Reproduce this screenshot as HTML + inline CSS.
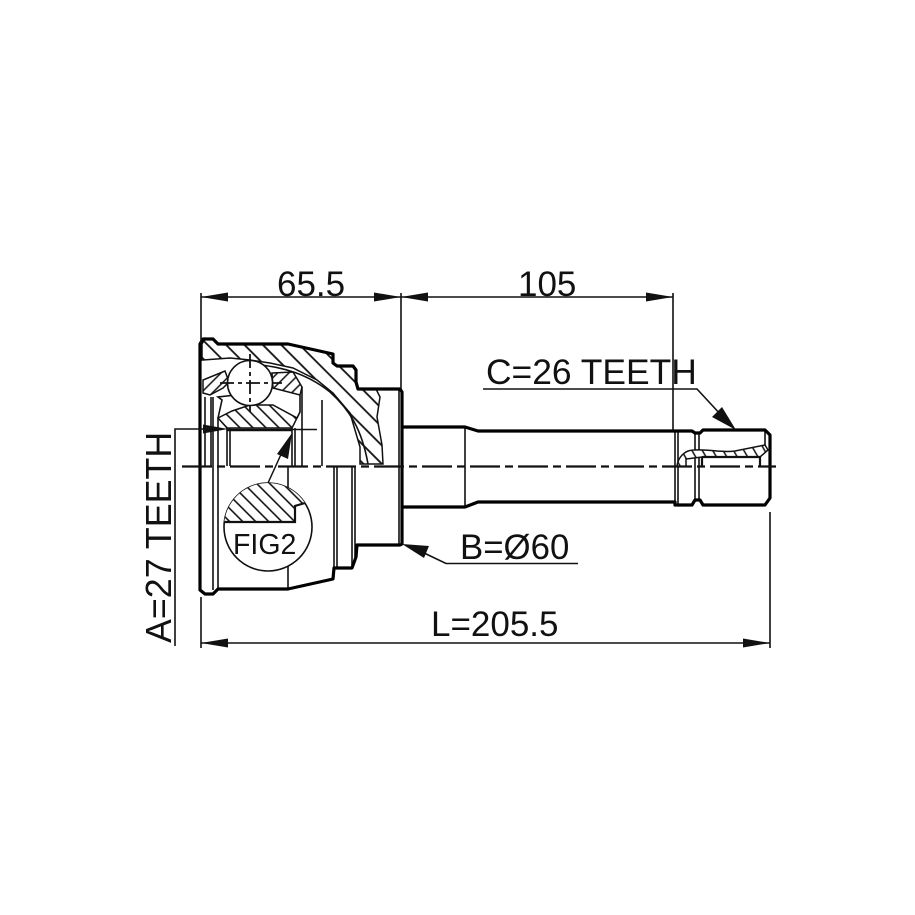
<!DOCTYPE html>
<html><head><meta charset="utf-8"><style>
html,body{margin:0;padding:0;background:#fff}
svg{display:block}
text{font-family:"Liberation Sans",sans-serif;fill:#111}
.k{fill:none;stroke:#000;stroke-width:3.2;stroke-linejoin:round;stroke-linecap:round}
.t{fill:none;stroke:#111;stroke-width:1.6}
.m{fill:none;stroke:#111;stroke-width:2.2}
</style></head><body>
<svg width="915" height="915" viewBox="0 0 915 915" xmlns="http://www.w3.org/2000/svg">
<defs>
<pattern id="h" width="13" height="13" patternUnits="userSpaceOnUse" patternTransform="rotate(45)"><rect width="13" height="13" fill="#fff"/><line x1="0" y1="6" x2="13" y2="6" stroke="#111" stroke-width="1.8"/></pattern>
<pattern id="hf" width="9.2" height="9.2" patternUnits="userSpaceOnUse" patternTransform="rotate(45)"><rect width="9.2" height="9.2" fill="#fff"/><line x1="0" y1="4" x2="9.2" y2="4" stroke="#111" stroke-width="1.6"/></pattern>
<pattern id="h2" width="8" height="8" patternUnits="userSpaceOnUse" patternTransform="rotate(-45)"><rect width="8" height="8" fill="#fff"/><line x1="0" y1="4" x2="8" y2="4" stroke="#111" stroke-width="1.5"/></pattern>
<pattern id="h4" width="9" height="9" patternUnits="userSpaceOnUse" patternTransform="rotate(60)"><rect width="9" height="9" fill="#fff"/><line x1="0" y1="4" x2="9" y2="4" stroke="#111" stroke-width="1.5"/></pattern>
<clipPath id="c"><circle cx="268" cy="527" r="44"/></clipPath>
</defs>
<rect width="915" height="915" fill="#fff"/>

<!-- hatch sections -->
<path d="M202 360L202 344L205 339L213 339L218 344L288 344L333 354L333 363L337 366L353 366L356 370L356 382L358 389L376 389L380 397L377 417L382 445L383 464L360 464L360 447L350 413L333 393L317 380L293 368L270 363L250 360L230 358L203 360Z" fill="url(#h)" stroke="#111" stroke-width="1.5"/>
<path d="M203 393L203 380L225 371L229 382L223 388L210 395Z" fill="url(#h2)" stroke="#111" stroke-width="1.5"/>
<path d="M272 373L293 372L302 387L300 395L273 388Z" fill="url(#h2)" stroke="#111" stroke-width="1.5"/>
<path d="M218 418L232 411L250 405L273 405L297 418L292 428L227 428Z" fill="url(#hf)" stroke="#111" stroke-width="1.5"/>
<path d="M218 418L222 400L218 397L236 395M300 395L300 412L297 418" class="t"/>
<path d="M250 364C285 366 310 376 330 392C350 410 362 430 368 464" class="t"/>
<circle cx="250" cy="383" r="22.5" fill="#fff" stroke="#111" stroke-width="1.6"/>

<!-- interior lines -->
<path d="M205 397V466M211 397V466M213 397V590M218 418V589M227 428V466M230 428V466M292 428V466M295 428V466M302 387V466M322 400V466M288 466V589M334 466V568M337 466V568M352 466V568M355 466V557M399 389V544M465 427V507M675 430V505M678 430V505M695 433V500M699 433V500M765 430V445" class="t"/>
<path d="M227 430H292" stroke="#111" stroke-width="2.5" fill="none"/>

<!-- outline -->
<path d="M200 590V344L203 339L213 339L218 344L288 344L333 354L333 363L337 366L353 366L356 370L356 382L358 389L400 389L402 392V544L400 545L357 545L356 557L352 568L334 568L333 579L288 589L218 589L213 594L205 594L200 590Z" class="k"/>
<path d="M402 427H465L478 431H675L692 431L695 433H700L703 430H765L770 435V498L765 505H703L700 500H695L692 505H675L675 502H478L465 507H402" class="k"/>

<!-- spline detail -->
<path d="M677 466C678 458 684 450 694 450C710 449 722 453 735 451C745 449 755 447 765 445L768 450L760 457H702L686 459V466" fill="url(#h4)" stroke="#111" stroke-width="1.5"/>
<path d="M702 457V466M760 457V466M702 457H760" class="m"/>

<!-- centre lines -->
<path d="M182 466.5H776" stroke="#111" stroke-width="2.2" fill="none" stroke-dasharray="30 5 8 5"/>
<path d="M250 354V412M220 383H282" stroke="#111" stroke-width="1.8" fill="none" stroke-dasharray="14 4 4 4"/>

<!-- FIG2 -->
<circle cx="268" cy="527" r="44" fill="#fff" stroke="#111" stroke-width="1.6"/>
<path clip-path="url(#c)" d="M220 480H320V503H305L295 506V522H220Z" fill="url(#hf)"/>
<path clip-path="url(#c)" d="M224 522H295V506L305 503" class="m"/>
<line x1="268" y1="483" x2="283" y2="450" stroke="#111" stroke-width="1.5"/>
<polygon points="292,433 288,459 277,454" fill="#111"/>
<text x="233" y="554" font-size="28.5">FIG2</text>

<!-- dimensions -->
<path d="M201 293V343M401 293V389M673 293V430M201 597V648M770 512V648" class="t"/>
<path d="M201 297H673M201 643H770" class="t"/>
<polygon points="201,297 228,292.5 228,301.5" fill="#111"/>
<polygon points="401,297 374,292.5 374,301.5" fill="#111"/>
<polygon points="401,297 428,292.5 428,301.5" fill="#111"/>
<polygon points="673,297 646,292.5 646,301.5" fill="#111"/>
<polygon points="201,643 228,638.5 228,647.5" fill="#111"/>
<polygon points="770,643 743,638.5 743,647.5" fill="#111"/>
<text x="277" y="296" font-size="35">65.5</text>
<text x="518" y="296" font-size="35">105</text>
<text x="431" y="636" font-size="35">L=205.5</text>

<path d="M483 389H697L722 416" class="t"/>
<polygon points="736,430 712,417 722,407" fill="#111"/>
<text x="486" y="384" font-size="35.4">C=26 TEETH</text>

<path d="M578 563.5H446L422 552" class="t"/>
<polygon points="402,544 429,546 424,558" fill="#111"/>
<text x="460" y="559" font-size="34.8">B=Ø60</text>

<path d="M175 646V429H205" class="t"/>
<polygon points="228,429 203,424.5 203,433.5" fill="#111"/>
<path d="M290 429.5H317" class="t"/>
<text transform="translate(171,643) rotate(-90)" font-size="35.8">A=27 TEETH</text>
</svg>
</body></html>
